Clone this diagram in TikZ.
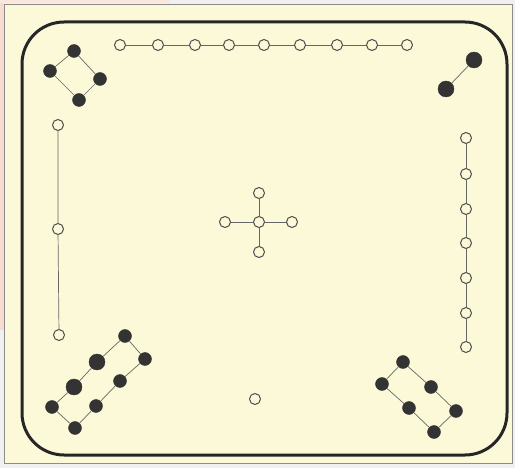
\documentclass[tikz,border=0pt]{standalone}
\begin{document}
\begin{tikzpicture}[x=1pt,y=-1pt,
  open/.style={circle,draw=black!70,line width=1pt,fill=paper,inner sep=0pt,minimum size=11pt},
  solid/.style={circle,fill=black!80,draw=black!80,inner sep=0pt,minimum size=13pt},
  bigsolid/.style={circle,fill=black!80,draw=black!80,inner sep=0pt,minimum size=16pt},
  link/.style={draw=black!60,line width=0.7pt}]
\definecolor{paper}{HTML}{FBF9D8}
\definecolor{salmon}{HTML}{F2B9A0}
\useasboundingbox (0,0) rectangle (515,468);
\fill[white!94!black] (0,0) rectangle (515,468);
\fill[paper] (4,5) rectangle (512,463);
\fill[salmon!50] (0,0) rectangle (4,330);
\fill[salmon!35] (0,0) rectangle (170,3);
\draw[black!45,line width=1pt] (4,5) rectangle (512,463);
\draw[black!85,line width=3pt,rounded corners=42pt] (22,22) rectangle (507,455);
% top row
\foreach \i/\x in {1/120,2/158,3/195,4/229,5/264,6/300,7/337,8/372,9/407}
  \node[open] (t\i) at (\x,45) {};
\foreach \a/\b in {1/2,2/3,3/4,4/5,5/6,6/7,7/8,8/9} \draw[link] (t\a) -- (t\b);
% top-left diamond
\node[solid] (d1) at (74,51) {};
\node[solid] (d2) at (50,71) {};
\node[solid] (d3) at (100,79) {};
\node[solid] (d4) at (79,100) {};
\draw[link] (d1) -- (d2) -- (d4) -- (d3) -- (d1);
% top-right pair
\node[bigsolid] (p1) at (474,60) {};
\node[bigsolid] (p2) at (446,89) {};
\draw[link] (p1) -- (p2);
% left vertical
\node[open] (l1) at (58,125) {};
\node[open] (l2) at (58,229) {};
\node[open] (l3) at (59,335) {};
\draw[link] (l1) -- (l2) -- (l3);
% right vertical
\foreach \i/\y in {1/138,2/174,3/209,4/243,5/278,6/313,7/347}
  \node[open] (r\i) at (466,\y) {};
\foreach \a/\b in {1/2,2/3,3/4,4/5,5/6,6/7} \draw[link] (r\a) -- (r\b);
% centre cross
\node[open] (c0) at (259,222) {};
\node[open] (c1) at (259,193) {};
\node[open] (c2) at (259,252) {};
\node[open] (c3) at (225,222) {};
\node[open] (c4) at (292,222) {};
\draw[link] (c0) -- (c1); \draw[link] (c0) -- (c2);
\draw[link] (c0) -- (c3); \draw[link] (c0) -- (c4);
% bottom centre
\node[open] (bc) at (255,399) {};
% bottom-left ladder
\node[solid] (a1) at (125,336) {};
\node[bigsolid] (a2) at (97,362) {};
\node[bigsolid] (a3) at (74,387) {};
\node[solid] (a4) at (52,407) {};
\node[solid] (b1) at (145,359) {};
\node[solid] (b2) at (120,381) {};
\node[solid] (b3) at (96,406) {};
\node[solid] (b4) at (75,428) {};
\draw[link] (a1) -- (a2) -- (a3) -- (a4) -- (b4) -- (b3) -- (b2) -- (b1) -- (a1);
% bottom-right ladder
\node[solid] (e1) at (403,362) {};
\node[solid] (e2) at (431,387) {};
\node[solid] (e3) at (456,411) {};
\node[solid] (f1) at (382,384) {};
\node[solid] (f2) at (409,408) {};
\node[solid] (f3) at (434,432) {};
\draw[link] (e1) -- (e2) -- (e3) -- (f3) -- (f2) -- (f1) -- (e1);
\end{tikzpicture}
\end{document}
